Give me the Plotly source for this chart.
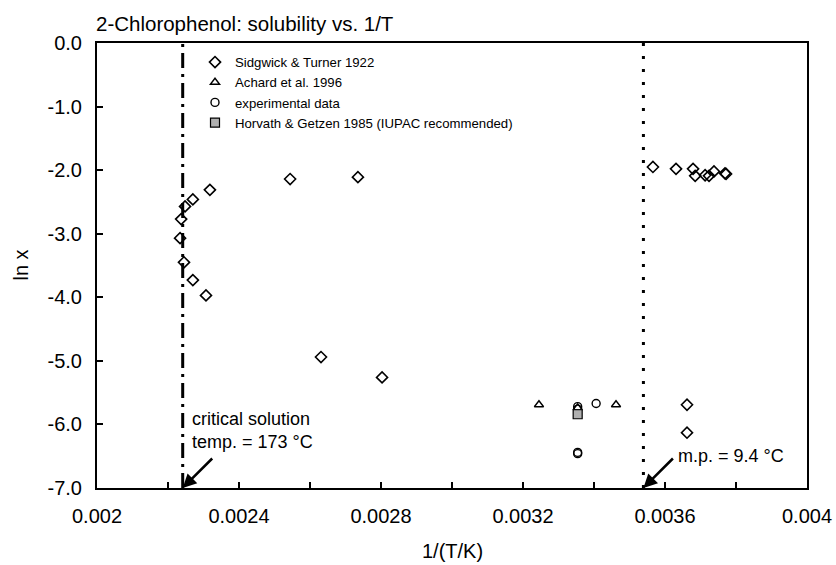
import plotly.graph_objects as go

# Sidgwick & Turner 1922
st_x = [0.002318, 0.002270, 0.002248, 0.002237, 0.002234, 0.002245, 0.002270, 0.002307,
        0.002544, 0.002735, 0.002631, 0.002803,
        0.003566, 0.003631, 0.003679, 0.003685, 0.003713, 0.003724, 0.003738, 0.003769, 0.003772,
        0.003662, 0.003662]
st_y = [-2.31, -2.46, -2.57, -2.77, -3.07, -3.45, -3.73, -3.97,
        -2.14, -2.11, -4.94, -5.26,
        -1.95, -1.98, -1.98, -2.09, -2.08, -2.09, -2.02, -2.05, -2.06,
        -5.69, -6.13]
# Achard et al. 1996
ach_x = [0.003245, 0.003354, 0.003462]
ach_y = [-5.69, -5.74, -5.69]
# experimental data
exp_x = [0.003354, 0.003354, 0.003406, 0.003354, 0.003354]
exp_y = [-5.72, -5.76, -5.67, -6.44, -6.46]
# Horvath & Getzen 1985
hg_x = [0.003354]
hg_y = [-5.84]

x_tickvals = [0.002, 0.0022, 0.0024, 0.0026, 0.0028, 0.003, 0.0032, 0.0034, 0.0036, 0.0038, 0.004]
x_ticktext = ["0.002", "", "0.0024", "", "0.0028", "", "0.0032", "", "0.0036", "", "0.004"]
y_tickvals = [0, -1, -2, -3, -4, -5, -6, -7]
y_ticktext = ["0.0", "-1.0", "-2.0", "-3.0", "-4.0", "-5.0", "-6.0", "-7.0"]

crit_T_C = 173.0
mp_T_C = 9.4
x_crit = 1.0 / (crit_T_C + 273.15)
x_mp = 1.0 / (mp_T_C + 273.15)

FONT = "Liberation Sans, Arial, sans-serif"
W, H = 836, 565
L, T, R, B = 97, 43, 29, 77
PW, PH = W - L - R, H - T - B

fig = go.Figure()
fig.add_trace(go.Scatter(x=st_x, y=st_y, mode="markers", name="Sidgwick & Turner 1922",
                         marker=dict(symbol="diamond-open", size=8.5, color="black", line=dict(width=1.6))))
fig.add_trace(go.Scatter(x=ach_x, y=ach_y, mode="markers", name="Achard et al. 1996",
                         marker=dict(symbol="triangle-up-open", size=8, color="black", line=dict(width=1.4))))
fig.add_trace(go.Scatter(x=exp_x, y=exp_y, mode="markers", name="experimental data",
                         marker=dict(symbol="circle-open", size=8, color="black", line=dict(width=1.4))))
fig.add_trace(go.Scatter(x=hg_x, y=hg_y, mode="markers", name="Horvath & Getzen 1985 (IUPAC recommended)",
                         marker=dict(symbol="square", size=9, color="#b0b0b0", line=dict(width=1.2, color="black"))))

fig.add_shape(type="line", x0=x_crit, x1=x_crit, y0=-7, y1=0, xref="x", yref="y",
              line=dict(color="black", width=3, dash="15px,6px,3px,6px"))
fig.add_shape(type="line", x0=x_mp, x1=x_mp, y0=-7, y1=0, xref="x", yref="y",
              line=dict(color="black", width=3, dash="3px,10px"))

fig.add_annotation(x=x_crit, y=-7, xref="x", yref="y", ax=31, ay=-31, text="",
                   showarrow=True, arrowhead=2, arrowsize=1.1, arrowwidth=2.5, arrowcolor="black")
fig.add_annotation(x=x_mp, y=-7, xref="x", yref="y", ax=31, ay=-31, text="",
                   showarrow=True, arrowhead=2, arrowsize=1.1, arrowwidth=2.5, arrowcolor="black")
fig.add_annotation(x=0.002262, y=-6.09, xref="x", yref="y", text="critical solution<br>temp. = 173 °C",
                   showarrow=False, xanchor="left", yanchor="middle", align="left",
                   font=dict(family=FONT, size=18, color="black"))
fig.add_annotation(x=0.003631, y=-6.49, xref="x", yref="y", text="m.p. = 9.4 °C",
                   showarrow=False, xanchor="left", yanchor="middle", align="left",
                   font=dict(family=FONT, size=18, color="black"))
# axis titles
fig.add_annotation(x=0.5, y=-(551 - 488) / PH, xref="paper", yref="paper", text="1/(T/K)",
                   showarrow=False, xanchor="center", yanchor="middle",
                   font=dict(family=FONT, size=20, color="black"))
fig.add_annotation(x=-(97 - 20) / PW, y=0.5, xref="paper", yref="paper", text="ln x", textangle=-90,
                   showarrow=False, xanchor="center", yanchor="middle",
                   font=dict(family=FONT, size=20, color="black"))

fig.update_layout(
    width=W, height=H,
    margin=dict(l=L, r=R, t=T, b=B, autoexpand=False),
    paper_bgcolor="white", plot_bgcolor="white",
    font=dict(family=FONT, size=20, color="black"),
    title=dict(text="2-Chlorophenol: solubility vs. 1/T", x=96 / W, xanchor="left",
               y=1 - 24 / H, yanchor="middle", font=dict(family=FONT, size=20.5, color="black")),
    showlegend=True,
    legend=dict(x=(195 - 97) / PW, y=1 - (47 - 43) / PH, xanchor="left", yanchor="top",
                bgcolor="rgba(0,0,0,0)",
                font=dict(family=FONT, size=13.2, color="black"), tracegroupgap=0, itemwidth=30),
    xaxis=dict(range=[0.002, 0.004], tickvals=x_tickvals, ticktext=x_ticktext, automargin=False,
               ticks="inside", ticklen=6, tickwidth=1.5, tickcolor="black", ticklabelstandoff=9,
               tickfont=dict(family=FONT, size=20, color="black"),
               showline=True, linecolor="black", linewidth=2, mirror=True, showgrid=False, zeroline=False),
    yaxis=dict(range=[-7, 0], tickvals=y_tickvals, ticktext=y_ticktext, automargin=False,
               ticks="inside", ticklen=6, tickwidth=1.5, tickcolor="black", ticklabelstandoff=9,
               tickfont=dict(family=FONT, size=20, color="black"),
               showline=True, linecolor="black", linewidth=2, mirror=True, showgrid=False, zeroline=False),
)

fig.write_html("out.html", config={"displayModeBar": False},
               post_script="document.body.style.margin='0';document.body.style.overflow='hidden';")
